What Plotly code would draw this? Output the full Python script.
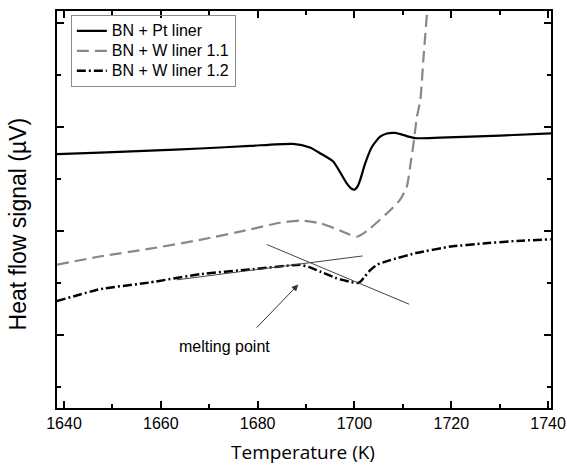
import plotly.graph_objects as go

# Heat-flow traces, temperature in K, signal in arbitrary µV units
T_pt = [1638.5, 1647.4, 1657.8, 1668.1, 1678.4, 1687.3, 1690.8, 1692.9, 1695.6, 1697.0,
        1698.4, 1699.5, 1700.1, 1700.7, 1701.2, 1702.2, 1703.6, 1705.3, 1706.7, 1708.4,
        1710.8, 1712.5, 1717.7, 1730.1, 1740.6]
hf_pt = [4.48, 4.51, 4.55, 4.59, 4.64, 4.68, 4.61, 4.50, 4.34, 4.14,
         3.92, 3.81, 3.80, 3.87, 3.99, 4.30, 4.62, 4.82, 4.88, 4.89,
         4.83, 4.79, 4.80, 4.84, 4.88]

T_w11 = [1638.5, 1647.4, 1657.8, 1668.1, 1678.4, 1684.6, 1688.8, 1692.9, 1697.0, 1699.1,
         1700.5, 1701.6, 1703.2, 1706.7, 1709.4, 1710.8, 1711.5, 1712.2, 1712.9, 1713.6,
         1714.3, 1715.2]
hf_w11 = [2.35, 2.51, 2.66, 2.83, 3.03, 3.16, 3.20, 3.15, 3.01, 2.93,
          2.89, 2.94, 3.05, 3.34, 3.60, 3.85, 4.24, 4.69, 5.20, 5.52,
          6.39, 7.45]

T_w12 = [1638.5, 1647.4, 1657.8, 1668.1, 1678.4, 1688.8, 1690.8, 1692.9, 1696.3, 1699.1,
         1700.8, 1701.4, 1702.2, 1703.2, 1704.6, 1707.4, 1712.9, 1719.8, 1726.6, 1733.5,
         1740.6]
hf_w12 = [1.65, 1.88, 2.01, 2.17, 2.26, 2.35, 2.30, 2.22, 2.09, 2.02,
          2.00, 2.04, 2.13, 2.24, 2.35, 2.44, 2.58, 2.70, 2.76, 2.81,
          2.84]

series_names = ["BN + Pt liner", "BN + W liner 1.1", "BN + W liner 1.2"]

# Construction lines for the onset of melting
tan1_T = [1681.9, 1711.3]
tan1_hf = [2.74, 1.59]
tan2_T = [1663.3, 1701.7]
tan2_hf = [2.06, 2.52]

# Arrow: tail -> head, and label position
arrow_tail = (1679.5, 1.11)
arrow_head = (1688.4, 1.97)
label_pos = (1673.1, 0.77)

x_ticks = [1640, 1660, 1680, 1700, 1720, 1740]

FONT = "Liberation Sans, Arial, sans-serif"


def legend_label(name):
    # legend rows stay compact (row height follows the legend font size)
    return f'<span style="font-size:16px">{name}</span>'


fig = go.Figure()

fig.add_trace(go.Scatter(x=T_pt, y=hf_pt, mode="lines", name=legend_label(series_names[0]),
                         line=dict(color="black", width=2.2, shape="spline", smoothing=0.6)))
fig.add_trace(go.Scatter(x=T_w11, y=hf_w11, mode="lines", name=legend_label(series_names[1]),
                         line=dict(color="#888888", width=2.2, dash="12px,6px",
                                   shape="spline", smoothing=0.6)))
fig.add_trace(go.Scatter(x=T_w12, y=hf_w12, mode="lines", name=legend_label(series_names[2]),
                         line=dict(color="black", width=2.5, dash="9px,3px,2px,3px",
                                   shape="spline", smoothing=0.3)))

for tx, ty in ((tan1_T, tan1_hf), (tan2_T, tan2_hf)):
    fig.add_trace(go.Scatter(x=tx, y=ty, mode="lines", showlegend=False, hoverinfo="skip",
                             line=dict(color="#444444", width=1)))

fig.add_annotation(x=arrow_head[0], y=arrow_head[1], ax=arrow_tail[0], ay=arrow_tail[1],
                   xref="x", yref="y", axref="x", ayref="y", text="", showarrow=True,
                   arrowhead=2, arrowsize=1.3, arrowwidth=1, arrowcolor="#333333")
fig.add_annotation(x=label_pos[0], y=label_pos[1], xref="x", yref="y", text="melting point",
                   showarrow=False, font=dict(family=FONT, size=16, color="black"))

# Axis titles
fig.add_annotation(x=-0.078, y=0.4635, xref="paper", yref="paper", text="Heat flow signal (µV)",
                   textangle=-90, showarrow=False, xanchor="center", yanchor="middle",
                   font=dict(family=FONT, size=23, color="black"))
fig.add_annotation(x=0.497, y=-0.112, xref="paper", yref="paper", text="Temperature (K)",
                   showarrow=False, xanchor="center", yanchor="middle",
                   font=dict(family="Open Sans, sans-serif", size=19, color="black"))

fig.update_xaxes(range=[1638.55, 1740.6], tickvals=x_ticks, ticks="inside", ticklen=7,
                 tickwidth=1.5, tickcolor="black", showline=True, linecolor="black",
                 linewidth=2, mirror="allticks", showgrid=False, zeroline=False,
                 automargin=False,
                 tickfont=dict(family=FONT, size=16, color="black"),
                 minor=dict(dtick=10, tick0=1630, ticks="inside", ticklen=4,
                            tickwidth=1.5, tickcolor="black", showgrid=False))
fig.update_yaxes(range=[-0.41, 7.24], tick0=1, dtick=2, ticks="inside", ticklen=7,
                 tickwidth=1.5, tickcolor="black", showticklabels=False, showline=True,
                 linecolor="black", linewidth=2, mirror="allticks", showgrid=False,
                 zeroline=False, automargin=False,
                 minor=dict(dtick=1, tick0=0, ticks="inside", ticklen=4,
                            tickwidth=1.5, tickcolor="black", showgrid=False))

fig.update_layout(
    width=567, height=465,
    margin=dict(l=57, r=16, t=11, b=57, autoexpand=False),
    plot_bgcolor="white", paper_bgcolor="white",
    showlegend=True,
    legend=dict(x=0.028, y=0.99, xanchor="left", yanchor="top",
                bgcolor="rgba(255,255,255,0)", bordercolor="#8a8a8a", borderwidth=1,
                font=dict(family=FONT, size=13, color="black"), tracegroupgap=0),
)

fig.write_html("out.html")
